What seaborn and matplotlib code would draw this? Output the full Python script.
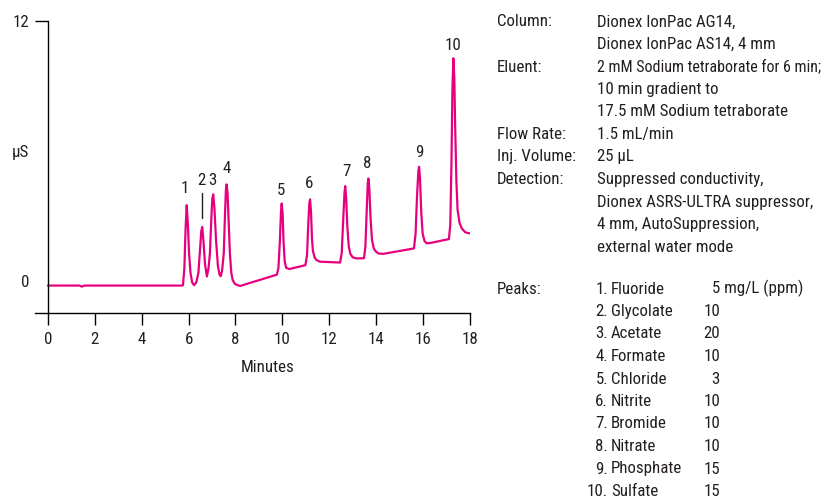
import matplotlib
matplotlib.use("Agg")
import matplotlib.pyplot as plt
from matplotlib import font_manager as fm
import seaborn as sns
import pandas as pd

# ---------------- data ----------------
time_min = [0.0, 1.35, 1.45, 1.55, 5.70,
            5.76, 5.82, 5.87, 5.92, 5.97, 6.02, 6.08, 6.15, 6.23, 6.33,
            6.42, 6.49, 6.54, 6.58, 6.63, 6.70, 6.78,
            6.85, 6.91, 6.97, 7.01, 7.05, 7.10, 7.17, 7.25, 7.32, 7.37,
            7.43, 7.50, 7.55, 7.59, 7.62, 7.66, 7.71, 7.76, 7.82, 7.88, 7.98, 8.19,
            9.76,
            9.83, 9.89, 9.94, 9.97, 10.01, 10.05, 10.10, 10.16, 10.30,
            10.98,
            11.05, 11.11, 11.15, 11.18, 11.22, 11.26, 11.30, 11.38, 11.46, 11.60, 12.46,
            12.53, 12.60, 12.65, 12.68, 12.72, 12.77, 12.83, 12.90, 13.00, 13.17, 13.48,
            13.54, 13.60, 13.64, 13.67, 13.71, 13.76, 13.82, 13.90, 14.00, 14.10, 14.30, 15.61,
            15.68, 15.74, 15.80, 15.83, 15.87, 15.92, 15.98, 16.06, 16.15, 16.30, 17.10,
            17.16, 17.21, 17.25, 17.29, 17.33, 17.37, 17.42, 17.47, 17.55, 17.65, 17.80, 18.0]
signal_us = [-0.20, -0.20, -0.25, -0.20, -0.20,
             -0.18, 0.60, 2.40, 3.50, 2.60, 1.30, 0.40, -0.05, -0.18, -0.05,
             0.40, 1.50, 2.30, 2.50, 1.90, 0.80, 0.22,
             0.60, 1.30, 2.90, 3.80, 4.00, 3.40, 1.90, 0.70, 0.30, 0.23,
             0.50, 1.30, 3.00, 4.20, 4.46, 4.10, 2.70, 1.30, 0.40, 0.05, -0.13, -0.22,
             0.30,
             0.60, 1.80, 3.20, 3.58, 3.10, 1.80, 0.90, 0.62, 0.56,
             0.74,
             1.20, 2.80, 3.60, 3.77, 3.20, 2.00, 1.40, 1.08, 0.97, 0.90, 0.86,
             1.30, 3.00, 4.10, 4.38, 3.80, 2.50, 1.60, 1.25, 1.10, 1.05, 1.06,
             1.60, 3.40, 4.50, 4.73, 4.20, 2.90, 1.90, 1.50, 1.35, 1.28, 1.26, 1.51,
             2.20, 3.90, 5.10, 5.27, 4.70, 3.20, 2.20, 1.85, 1.75, 1.76, 1.94,
             2.60, 5.50, 8.80, 10.27, 9.40, 7.00, 4.60, 3.30, 2.70, 2.43, 2.25, 2.20]

peak_numbers = ["1", "2", "3", "4", "5", "6", "7", "8", "9", "10"]
peak_label_t = [5.85, 6.56, 7.02, 7.62, 9.94, 11.15, 12.74, 13.60, 15.83, 17.26]
peak_label_y = [4.26, 4.66, 4.64, 5.20, 4.17, 4.51, 5.05, 5.40, 5.92, 10.88]

x_ticks = [0, 2, 4, 6, 8, 10, 12, 14, 16, 18]
y_ticks = [0, 6, 12]
y_tick_labels = ["0", "µS", "12"]

cond_labels = ["Column:", "", "Eluent:", "", "", "Flow Rate:", "Inj. Volume:",
               "Detection:", "", "", ""]
cond_values = ["Dionex IonPac AG14,", "Dionex IonPac AS14, 4 mm",
               "2 mM Sodium tetraborate for 6 min;", "10 min gradient to",
               "17.5 mM Sodium tetraborate", "1.5 mL/min", "25 µL",
               "Suppressed conductivity,", "Dionex ASRS-ULTRA suppressor,",
               "4 mm, AutoSuppression,", "external water mode"]

analytes = ["Fluoride", "Glycolate", "Acetate", "Formate", "Chloride",
            "Nitrite", "Bromide", "Nitrate", "Phosphate", "Sulfate"]
concentrations = ["5", "10", "20", "10", "3", "10", "10", "10", "15", "15"]
conc_unit = "mg/L (ppm)"

# ---------------- style ----------------
sns.set_theme(style="white")
available = set(f.name for f in fm.fontManager.ttflist)
preferred = ["Roboto Condensed", "Liberation Sans Narrow", "PT Sans Narrow",
             "Archivo Narrow", "Liberation Sans"]
FONT = [f for f in preferred if f in available] + ["DejaVu Sans"]
plt.rcParams["font.family"] = FONT
FS = 12.2
plt.rcParams["font.size"] = FS
TXT = "#231F20"
PINK = "#E6007E"

W, H = 823, 500
fig = plt.figure(figsize=(W / 100, H / 100), dpi=100)


def fx(px):
    return px / W


def fy(py):
    return 1 - py / H


ax_l, ax_r, ax_t, ax_b = 35, 470, 20.7, 312.7
ax = fig.add_axes([fx(ax_l), fy(ax_b), fx(ax_r - ax_l), (ax_b - ax_t) / H])

df = pd.DataFrame({"Minutes": time_min, "uS": signal_us})
sns.lineplot(data=df, x="Minutes", y="uS", ax=ax, color=PINK, lw=1.6,
             estimator=None, sort=False)

ax.set_xlim(-0.55, 18)
ax.set_ylim(-1.45, 12)
for s in ["top", "right"]:
    ax.spines[s].set_visible(False)
ax.spines["left"].set_position(("data", 0))
for s in ["left", "bottom"]:
    ax.spines[s].set_color("black")
    ax.spines[s].set_linewidth(1.0)

ax.set_xticks(x_ticks)
ax.set_xticklabels([str(v) for v in x_ticks])
ax.set_yticks(y_ticks)
ax.set_yticklabels(y_tick_labels)
ax.tick_params(axis="x", direction="out", length=8.6, width=1.0, pad=5.5,
               colors="black", labelcolor=TXT, labelsize=FS, bottom=True)
ax.tick_params(axis="y", direction="out", length=9.4, width=1.0, pad=4,
               colors="black", labelcolor=TXT, labelsize=FS, left=True)
yt = ax.yaxis.get_major_ticks()
yt[0].tick1line.set_visible(False)
yt[1].tick1line.set_visible(False)

ax.set_xlabel("Minutes", color=TXT, fontsize=FS)
ax.set_ylabel("")
ax.xaxis.set_label_coords((267.5 - ax_l) / (ax_r - ax_l), (ax_b - 372.5) / (ax_b - ax_t))
ax.xaxis.label.set_verticalalignment("baseline")

for lab, t, y in zip(peak_numbers, peak_label_t, peak_label_y):
    ax.text(t, y, lab, ha="center", va="center", color=TXT, fontsize=FS)
# marker line under peak 2 label
ax.plot([6.57, 6.57], [2.9, 4.08], color=TXT, lw=1.0)

# ---------------- conditions text ----------------
block = []
x_lab, x_val = 497, 597
base0, step = 26.5, 22.5
for i, (lab, val) in enumerate(zip(cond_labels, cond_values)):
    yb = base0 + i * step
    if lab:
        fig.text(fx(x_lab), fy(yb), lab, ha="left", va="baseline", color=TXT, fontsize=FS)
    block.append(fig.text(fx(x_val), fy(yb), val, ha="left", va="baseline",
                          color=TXT, fontsize=FS))

pbase0 = 293.5
fig.text(fx(x_lab), fy(pbase0), "Peaks:", ha="left", va="baseline", color=TXT, fontsize=FS)
for i, (name, conc) in enumerate(zip(analytes, concentrations)):
    yb = pbase0 + i * step
    fig.text(fx(608), fy(yb), f"{i + 1}.", ha="right", va="baseline", color=TXT, fontsize=FS)
    fig.text(fx(611), fy(yb), name, ha="left", va="baseline", color=TXT, fontsize=FS)
    if i == 0:
        block.append(fig.text(fx(711.5), fy(yb), f"{conc} {conc_unit}", ha="left",
                              va="baseline", color=TXT, fontsize=FS))
    else:
        fig.text(fx(720), fy(yb), conc, ha="right", va="baseline", color=TXT, fontsize=FS)

# keep long lines inside the figure (reference ends them at the right edge)
fig.canvas.draw()
renderer = fig.canvas.get_renderer()
limit = W - 2.5
for t in block:
    bb = t.get_window_extent(renderer)
    if bb.x1 > limit:
        t.set_fontsize(FS * (limit - bb.x0) / (bb.x1 - bb.x0))

fig.savefig("out.png", dpi=100)
